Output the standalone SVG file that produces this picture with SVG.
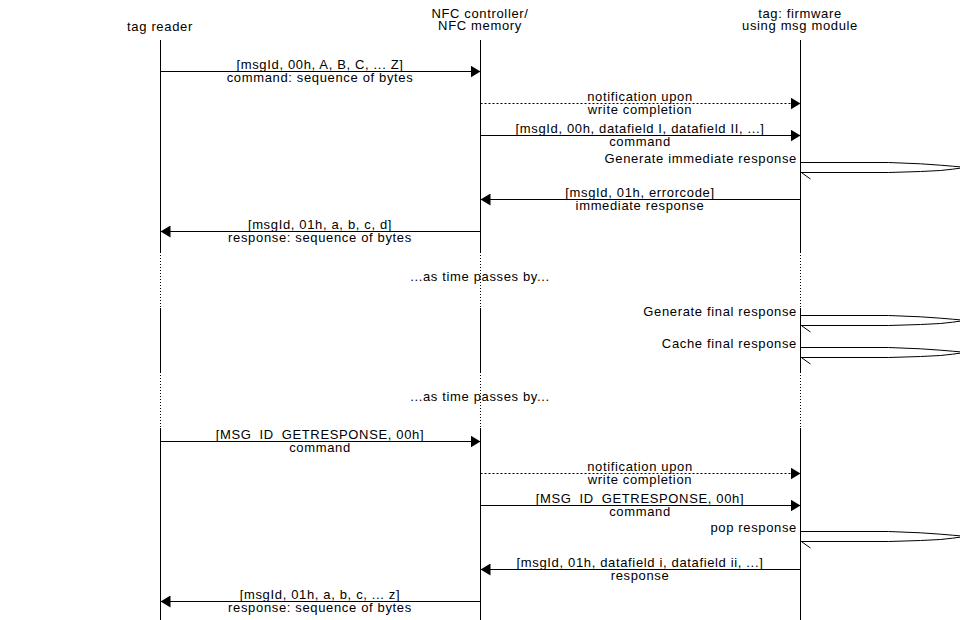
<svg xmlns="http://www.w3.org/2000/svg" width="960" height="620" viewBox="0 0 960 620">
<style>
text{font-family:"Liberation Sans",Arial,sans-serif;font-size:13px;letter-spacing:0.65px;fill:#000}
.c{text-anchor:middle}
.e{text-anchor:end}
.ll{stroke:#000;stroke-width:1;fill:none}
.dl{stroke:#000;stroke-width:1;stroke-dasharray:1,2;fill:none}
.m{stroke:#000;stroke-width:1;fill:none;marker-end:url(#ah)}
.md{stroke:#000;stroke-width:1;fill:none;stroke-dasharray:2,2;marker-end:url(#ah)}
.loop{stroke:#000;stroke-width:1;fill:none}
</style>
<defs>
<marker id="ah" markerUnits="userSpaceOnUse" markerWidth="10" markerHeight="12" refX="10" refY="6" orient="auto" viewBox="0 0 10 12">
<path d="M0,0 L10,6 L0,12 z" fill="#000"/>
</marker>
<g id="selfloop">
<path class="loop" d="M800,0 H888 L920,1.3 L940,2.7 L952,3.7 L960,4.4 M800,10 H888 L920,9 L940,8 L952,6.7 L960,5.6"/>
<line class="loop" x1="801.5" y1="10.5" x2="810" y2="16.5"/>
</g>
</defs>
<rect width="960" height="620" fill="#fff"/>

<g id="tag-reader">
<text class="c" x="160" y="30.5">tag reader</text>
<path class="ll" d="M160.5,40 V252 M160.5,308 V372 M160.5,428 V620"/>
<path class="dl" d="M160.5,252 V308 M160.5,372 V428"/>
</g>
<g id="nfc-controller">
<text class="c" x="480" y="17.5">NFC controller/</text>
<text class="c" x="480" y="30">NFC memory</text>
<path class="ll" d="M480.5,40 V252 M480.5,308 V372 M480.5,428 V620"/>
<path class="dl" d="M480.5,252 V308 M480.5,372 V428"/>
</g>
<g id="tag-firmware">
<text class="c" x="800" y="17.5">tag: firmware</text>
<text class="c" x="800" y="30">using msg module</text>
<path class="ll" d="M800.5,40 V252 M800.5,308 V372 M800.5,428 V620"/>
<path class="dl" d="M800.5,252 V308 M800.5,372 V428"/>
</g>

<g id="connectors">
<line class="m" x1="160.5" y1="71.5" x2="480.5" y2="71.5"/>
<text class="c" x="320" y="68.5">[msgId, 00h, A, B, C, ... Z]</text>
<text class="c" x="320" y="81.5">command: sequence of bytes</text>

<line class="md" x1="480.5" y1="103.5" x2="800.5" y2="103.5"/>
<text class="c" x="640" y="100.5">notification upon</text>
<text class="c" x="640" y="113.5">write completion</text>

<line class="m" x1="480.5" y1="135.5" x2="800.5" y2="135.5"/>
<text class="c" x="640" y="132.5">[msgId, 00h, datafield I, datafield II, ...]</text>
<text class="c" x="640" y="145.5">command</text>

<use href="#selfloop" transform="translate(0.5,162.5)"/>
<text class="e" x="797" y="163">Generate immediate response</text>

<line class="m" x1="800.5" y1="199.5" x2="480.5" y2="199.5"/>
<text class="c" x="640" y="196.5">[msgId, 01h, errorcode]</text>
<text class="c" x="640" y="209.5">immediate response</text>

<line class="m" x1="480.5" y1="231.5" x2="160.5" y2="231.5"/>
<text class="c" x="320" y="228.5">[msgId, 01h, a, b, c, d]</text>
<text class="c" x="320" y="241.5">response: sequence of bytes</text>

<text class="c" x="480" y="280.5">...as time passes by...</text>

<use href="#selfloop" transform="translate(0.5,315.5)"/>
<text class="e" x="797" y="316">Generate final response</text>

<use href="#selfloop" transform="translate(0.5,347.5)"/>
<text class="e" x="797" y="348">Cache final response</text>

<text class="c" x="480" y="400.5">...as time passes by...</text>

<line class="m" x1="160.5" y1="441.5" x2="480.5" y2="441.5"/>
<text class="c" x="320" y="438.5">[MSG_ID_GETRESPONSE, 00h]</text>
<text class="c" x="320" y="451.5">command</text>

<line class="md" x1="480.5" y1="473.5" x2="800.5" y2="473.5"/>
<text class="c" x="640" y="470.5">notification upon</text>
<text class="c" x="640" y="483.5">write completion</text>

<line class="m" x1="480.5" y1="505.5" x2="800.5" y2="505.5"/>
<text class="c" x="640" y="502.5">[MSG_ID_GETRESPONSE, 00h]</text>
<text class="c" x="640" y="515.5">command</text>

<use href="#selfloop" transform="translate(0.5,531.5)"/>
<text class="e" x="797" y="532">pop response</text>

<line class="m" x1="800.5" y1="569.5" x2="480.5" y2="569.5"/>
<text class="c" x="640" y="566.5">[msgId, 01h, datafield i, datafield ii, ...]</text>
<text class="c" x="640" y="579.5">response</text>

<line class="m" x1="480.5" y1="601.5" x2="160.5" y2="601.5"/>
<text class="c" x="320" y="598.5">[msgId, 01h, a, b, c, ... z]</text>
<text class="c" x="320" y="611.5">response: sequence of bytes</text>
</g>
</svg>
